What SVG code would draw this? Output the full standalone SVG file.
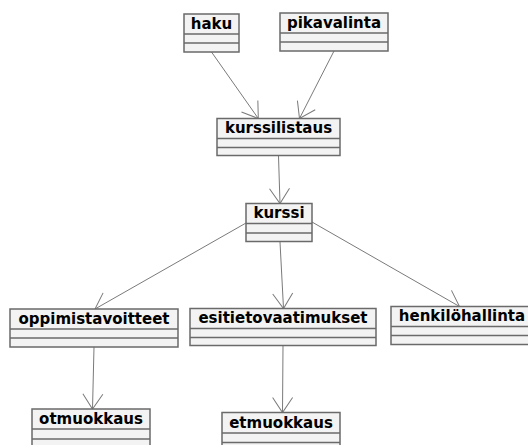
<svg xmlns="http://www.w3.org/2000/svg" width="528" height="445" viewBox="0 0 528 445">
<style>
.box{fill:#f3f3f3;stroke:#6a6a6a;stroke-width:1.5}
.sep{stroke:#6a6a6a;stroke-width:1.5}
.lbl{font-family:"DejaVu Sans",sans-serif;font-weight:bold;font-size:15px;fill:#000;text-anchor:middle}
.edge{fill:none;stroke:#7a7a7a;stroke-width:1;marker-end:url(#arr)}
</style>
<defs>
<marker id="arr" markerUnits="userSpaceOnUse" orient="auto" refX="0" refY="0" markerWidth="40" markerHeight="40" viewBox="-20 -20 40 40" overflow="visible">
<path d="M-15,-10 L0,0 L-15,10" fill="none" stroke="#7a7a7a" stroke-width="1"/>
</marker>
</defs>
<g id="connectors">
<line class="edge" x1="211.5" y1="52" x2="258.3" y2="118.5"/>
<line class="edge" x1="334" y1="51" x2="299.5" y2="118.5"/>
<line class="edge" x1="278.5" y1="156" x2="280" y2="203.5"/>
<line class="edge" x1="246" y1="223" x2="95" y2="309"/>
<line class="edge" x1="280" y1="242" x2="283.5" y2="308.5"/>
<line class="edge" x1="312" y1="222" x2="459.5" y2="306.5"/>
<line class="edge" x1="94" y1="347" x2="92.5" y2="409"/>
<line class="edge" x1="283" y1="346" x2="282.5" y2="412.5"/>
</g>
<g id="haku">
<rect class="box" x="184" y="14" width="55" height="38"/>
<line class="sep" x1="184" y1="34" x2="239" y2="34"/>
<line class="sep" x1="184" y1="43" x2="239" y2="43"/>
<text class="lbl" x="211.5" y="29">haku</text>
</g>
<g id="pikavalinta">
<rect class="box" x="280" y="13" width="108" height="38"/>
<line class="sep" x1="280" y1="33" x2="388" y2="33"/>
<line class="sep" x1="280" y1="42" x2="388" y2="42"/>
<text class="lbl" x="334" y="28">pikavalinta</text>
</g>
<g id="kurssilistaus">
<rect class="box" x="217" y="118.5" width="123" height="37"/>
<line class="sep" x1="217" y1="138.5" x2="340" y2="138.5"/>
<line class="sep" x1="217" y1="147.5" x2="340" y2="147.5"/>
<text class="lbl" x="278.5" y="133">kurssilistaus</text>
</g>
<g id="kurssi">
<rect class="box" x="246" y="203.5" width="66" height="38"/>
<line class="sep" x1="246" y1="223.5" x2="312" y2="223.5"/>
<line class="sep" x1="246" y1="233" x2="312" y2="233"/>
<text class="lbl" x="279" y="218">kurssi</text>
</g>
<g id="oppimistavoitteet">
<rect class="box" x="10" y="309" width="168" height="38"/>
<line class="sep" x1="10" y1="329" x2="178" y2="329"/>
<line class="sep" x1="10" y1="338" x2="178" y2="338"/>
<text class="lbl" x="94" y="323.5">oppimistavoitteet</text>
</g>
<g id="esitietovaatimukset">
<rect class="box" x="190" y="308.5" width="186" height="37"/>
<line class="sep" x1="190" y1="328.5" x2="376" y2="328.5"/>
<line class="sep" x1="190" y1="337.5" x2="376" y2="337.5"/>
<text class="lbl" x="283" y="323">esitietovaatimukset</text>
</g>
<g id="henkilohallinta">
<rect class="box" x="391" y="306.5" width="142" height="38"/>
<line class="sep" x1="391" y1="326.5" x2="533" y2="326.5"/>
<line class="sep" x1="391" y1="335.5" x2="533" y2="335.5"/>
<text class="lbl" x="462" y="321">henkilöhallinta</text>
</g>
<g id="otmuokkaus">
<rect class="box" x="32" y="409" width="118" height="40"/>
<line class="sep" x1="32" y1="429" x2="150" y2="429"/>
<line class="sep" x1="32" y1="439" x2="150" y2="439"/>
<text class="lbl" x="91" y="423.5">otmuokkaus</text>
</g>
<g id="etmuokkaus">
<rect class="box" x="222" y="412.5" width="118" height="40"/>
<line class="sep" x1="222" y1="433" x2="340" y2="433"/>
<line class="sep" x1="222" y1="442.5" x2="340" y2="442.5"/>
<text class="lbl" x="281" y="427.5">etmuokkaus</text>
</g>
</svg>
